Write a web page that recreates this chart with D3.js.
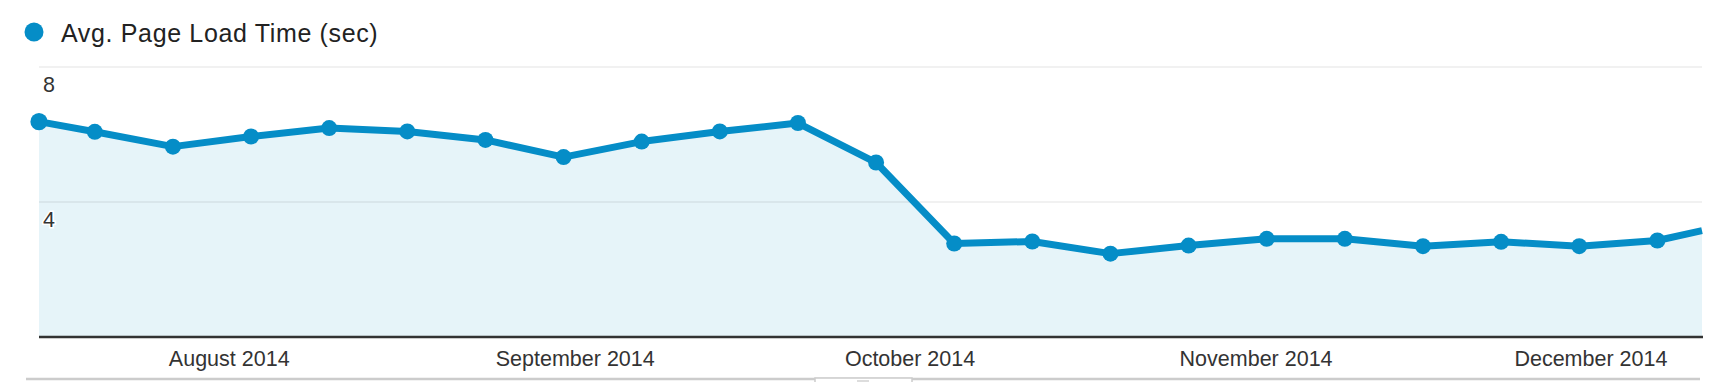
<!DOCTYPE html>
<html lang="en">

<head>
    <meta charset="UTF-8">
    <title>Avg. Page Load Time</title>
    <script src="https://cdn.jsdelivr.net/npm/d3@7/dist/d3.min.js"></script>
    <style>
        body { margin: 0; background: #fff; }
        svg { display: block; font-family: "Liberation Sans", Arial, Helvetica, sans-serif; }
    </style>
</head>

<body>
    <svg id="chart" width="1722" height="382"></svg>
    <script>
        // weekly points (first and last are partial weeks)
        const dates = ["2014-07-15", "2014-07-20", "2014-07-27", "2014-08-03", "2014-08-10", "2014-08-17",
            "2014-08-24", "2014-08-31", "2014-09-07", "2014-09-14", "2014-09-21", "2014-09-28",
            "2014-10-05", "2014-10-12", "2014-10-19", "2014-10-26", "2014-11-02", "2014-11-09",
            "2014-11-16", "2014-11-23", "2014-11-30", "2014-12-07", "2014-12-11"];
        const loadTimes = [6.38, 6.08, 5.64, 5.94, 6.19, 6.09, 5.84, 5.33, 5.79, 6.09, 6.34, 5.17,
            2.77, 2.83, 2.47, 2.71, 2.91, 2.91, 2.69, 2.82, 2.69, 2.86, 3.15];
        const monthTicks = ["2014-08-01", "2014-09-01", "2014-10-01", "2014-11-01", "2014-12-01"];
        const yTicks = [4, 8];
        const seriesName = "Avg. Page Load Time (sec)";

        const parse = d3.utcParse("%Y-%m-%d");
        const data = dates.map((d, i) => ({ date: parse(d), value: loadTimes[i] }));

        const plotLeft = 39, plotRight = 1702, plotTop = 67, plotBottom = 337;
        const blue = "#058dc7";

        const x = d3.scaleUtc()
            .domain(d3.extent(data, d => d.date))
            .range([plotLeft, plotRight]);
        const y = d3.scaleLinear()
            .domain([0, 8])
            .range([plotBottom, plotTop]);

        const svg = d3.select("#chart");

        // legend
        svg.append("circle").attr("cx", 34).attr("cy", 32).attr("r", 9.5).attr("fill", blue);
        svg.append("text")
            .attr("x", 61).attr("y", 41.5)
            .attr("font-size", 25)
            .attr("letter-spacing", 0.65)
            .attr("fill", "#222")
            .text(seriesName);

        // area under the line
        svg.append("path")
            .datum(data)
            .attr("fill", "#e6f4f9")
            .attr("d", d3.area().x(d => x(d.date)).y0(y(0)).y1(d => y(d.value)));

        // gridlines
        svg.selectAll(".grid")
            .data(yTicks)
            .enter()
            .append("line")
            .attr("x1", plotLeft).attr("x2", plotRight)
            .attr("y1", d => y(d)).attr("y2", d => y(d))
            .attr("stroke", "rgba(0,0,0,0.075)")
            .attr("stroke-width", 1.5);

        // y labels under the gridlines
        svg.selectAll(".ylab")
            .data(yTicks)
            .enter()
            .append("text")
            .attr("x", 43).attr("y", d => y(d) + 25)
            .attr("font-size", 21.5)
            .attr("fill", "#333")
            .attr("stroke", "#fff").attr("stroke-width", 3)
            .attr("paint-order", "stroke")
            .text(d => d);

        // line
        svg.append("path")
            .datum(data)
            .attr("fill", "none")
            .attr("stroke", blue)
            .attr("stroke-width", 7)
            .attr("stroke-linejoin", "round")
            .attr("d", d3.line().x(d => x(d.date)).y(d => y(d.value)));

        // dots (not on the trailing partial point at the edge)
        svg.selectAll(".dot")
            .data(data.slice(0, -1))
            .enter()
            .append("circle")
            .attr("cx", d => x(d.date))
            .attr("cy", d => y(d.value))
            .attr("r", (d, i) => i === 0 ? 8.6 : 8)
            .attr("fill", blue);

        // baseline
        svg.append("line")
            .attr("x1", plotLeft).attr("x2", plotRight + 1)
            .attr("y1", y(0)).attr("y2", y(0))
            .attr("stroke", "#333")
            .attr("stroke-width", 2.5);

        // month axis
        const xAxis = d3.axisBottom(x)
            .tickValues(monthTicks.map(parse))
            .tickFormat(d3.utcFormat("%B %Y"))
            .tickSize(0);
        const gx = svg.append("g")
            .attr("transform", `translate(0,${plotBottom})`)
            .call(xAxis);
        gx.select(".domain").remove();
        gx.selectAll("text")
            .attr("y", 28.5).attr("dy", 0)
            .attr("font-size", 21.5)
            .attr("font-family", "Liberation Sans, Arial, sans-serif")
            .attr("fill", "#333");

        // bottom rule with the scroll handle
        svg.append("line")
            .attr("x1", 26).attr("x2", 1700)
            .attr("y1", 379).attr("y2", 379)
            .attr("stroke", "#ccc")
            .attr("stroke-width", 2.5);
        svg.append("rect")
            .attr("x", 815).attr("y", 378).attr("width", 97).attr("height", 8)
            .attr("fill", "#fff").attr("stroke", "#ccc").attr("stroke-width", 1.5);
        svg.append("rect")
            .attr("x", 857).attr("y", 380).attr("width", 12).attr("height", 4)
            .attr("fill", "#ddd");
    </script>
</body>

</html>
